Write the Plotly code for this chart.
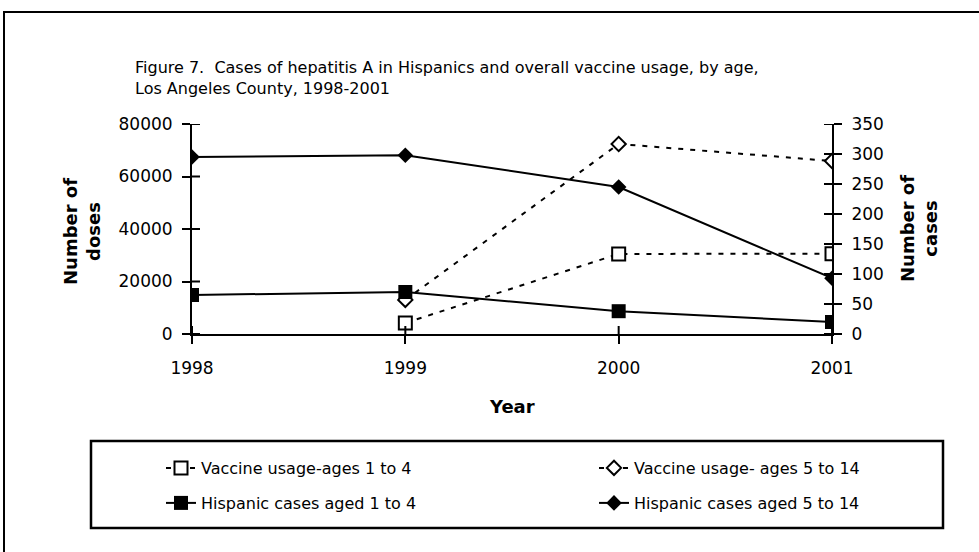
import plotly.graph_objects as go

# ---- data ----
years_vac = [1999, 2000, 2001]
vac_1_4 = [4200, 30500, 30600]
vac_5_14 = [13000, 72400, 65900]
years_cases = [1998, 1999, 2000, 2001]
cases_1_4 = [65, 70, 38, 20]
cases_5_14 = [295, 298, 245, 93]
x_ticks = [1998, 1999, 2000, 2001]
doses_ticks = [0, 20000, 40000, 60000, 80000]
cases_ticks = [0, 50, 100, 150, 200, 250, 300, 350]

names = ["Vaccine usage-ages 1 to 4", "Vaccine usage- ages 5 to 14",
         "Hispanic cases aged 1 to 4", "Hispanic cases aged 5 to 14"]
title_text = ("Figure 7.  Cases of hepatitis A in Hispanics and overall vaccine usage, by age,"
              "<br>Los Angeles County, 1998-2001")

FONT = "DejaVu Sans"
W, H = 979, 552
L, R, T, B = 192, 832, 124, 334   # plot area in window pixels
pw, ph = R - L, B - T


def px(x):
    return (x - L) / pw


def py(y):
    return (B - y) / ph


fig = go.Figure()
dash = "5px,7px"
fig.add_trace(go.Scatter(x=years_vac, y=vac_1_4, name=names[0], mode="lines+markers",
                         line=dict(color="black", width=2, dash=dash),
                         marker=dict(symbol="square", size=13, color="white",
                                     line=dict(color="black", width=2)),
                         legend="legend"))
fig.add_trace(go.Scatter(x=years_vac, y=vac_5_14, name=names[1], mode="lines+markers",
                         line=dict(color="black", width=2, dash=dash),
                         marker=dict(symbol="diamond", size=11, color="white",
                                     line=dict(color="black", width=2)),
                         legend="legend2"))
fig.add_trace(go.Scatter(x=years_cases, y=cases_1_4, name=names[2], mode="lines+markers",
                         line=dict(color="black", width=2),
                         marker=dict(symbol="square", size=14, color="black"),
                         yaxis="y2", legend="legend3"))
fig.add_trace(go.Scatter(x=years_cases, y=cases_5_14, name=names[3], mode="lines+markers",
                         line=dict(color="black", width=2),
                         marker=dict(symbol="diamond", size=12, color="black"),
                         yaxis="y2", legend="legend4"))

tickfont = dict(family=FONT, size=17, color="black")


def leg(xpix, ypix):
    return dict(orientation="v", x=px(xpix), xanchor="left", y=py(ypix), yanchor="middle",
                bgcolor="rgba(0,0,0,0)", font=dict(family=FONT, size=16, color="black"),
                borderwidth=0)


fig.update_layout(
    width=W, height=H,
    margin=dict(l=L, r=W - R, t=T, b=H - B, pad=0),
    paper_bgcolor="white", plot_bgcolor="white",
    font=dict(family=FONT, size=16, color="black"),
    xaxis=dict(range=[1998, 2001], tickvals=x_ticks, ticktext=[str(v) for v in x_ticks],
               showgrid=False, zeroline=False, showline=True, linecolor="black", linewidth=2,
               ticks="outside", ticklen=8, tickwidth=2, tickcolor="black",
               tickfont=tickfont, ticklabelstandoff=10),
    yaxis=dict(range=[0, 80000], tickvals=doses_ticks, ticktext=[str(v) for v in doses_ticks],
               showgrid=False, zeroline=False, showline=True, linecolor="black", linewidth=2,
               ticks="outside", ticklen=8, tickwidth=2, tickcolor="black",
               tickfont=tickfont, ticklabelstandoff=6),
    yaxis2=dict(range=[0, 350], tickvals=cases_ticks, ticktext=[str(v) for v in cases_ticks],
                overlaying="y", side="right", anchor="x",
                showgrid=False, zeroline=False, showline=True, linecolor="black", linewidth=2,
                ticks="outside", ticklen=8, tickwidth=2, tickcolor="black",
                tickfont=tickfont, ticklabelstandoff=6),
    legend=leg(161, 468),
    legend2=leg(594, 468),
    legend3=leg(161, 503),
    legend4=leg(594, 503),
    showlegend=True,
)

shapes = []
# crossing tick marks (inner halves)
for v in doses_ticks:
    shapes.append(dict(type="line", xref="paper", yref="y", xsizemode="pixel", xanchor=0,
                       x0=0, x1=8, y0=v, y1=v, line=dict(color="black", width=2)))
for v in cases_ticks:
    shapes.append(dict(type="line", xref="paper", yref="y2", xsizemode="pixel", xanchor=1,
                       x0=-8, x1=0, y0=v, y1=v, line=dict(color="black", width=2)))
for v in x_ticks:
    shapes.append(dict(type="line", xref="x", yref="paper", ysizemode="pixel", yanchor=0,
                       y0=0, y1=8, x0=v, x1=v, line=dict(color="black", width=2)))
# legend frame
shapes.append(dict(type="rect", xref="paper", yref="paper", x0=px(91), x1=px(943),
                   y0=py(528), y1=py(441), line=dict(color="black", width=2.5),
                   fillcolor="rgba(0,0,0,0)", layer="below"))
# outer chart frame
shapes.append(dict(type="rect", xref="paper", yref="paper", x0=px(4), x1=px(1000),
                   y0=py(600), y1=py(12), line=dict(color="black", width=2),
                   fillcolor="rgba(0,0,0,0)", layer="below"))
fig.update_layout(shapes=shapes)

annotations = [
    dict(text=title_text, xref="paper", yref="paper", x=px(133), y=py(78),
         xanchor="left", yanchor="middle", align="left", showarrow=False,
         font=dict(family=FONT, size=16)),
    dict(text="<b>Number of<br>doses</b>", xref="paper", yref="paper", x=px(82), y=py(232),
         xanchor="center", yanchor="middle", textangle=-90, showarrow=False,
         font=dict(family=FONT, size=18)),
    dict(text="<b>Number of<br>cases</b>", xref="paper", yref="paper", x=px(919), y=py(229),
         xanchor="center", yanchor="middle", textangle=-90, showarrow=False,
         font=dict(family=FONT, size=18)),
    dict(text="<b>Year</b>", xref="paper", yref="paper", x=px(512), y=py(406),
         xanchor="center", yanchor="middle", showarrow=False,
         font=dict(family=FONT, size=18)),
]
fig.update_layout(annotations=annotations)

fig.write_html("out.html",
               config={"displayModeBar": False},
               post_script="document.body.style.margin='0px';document.body.style.overflow='hidden';")
